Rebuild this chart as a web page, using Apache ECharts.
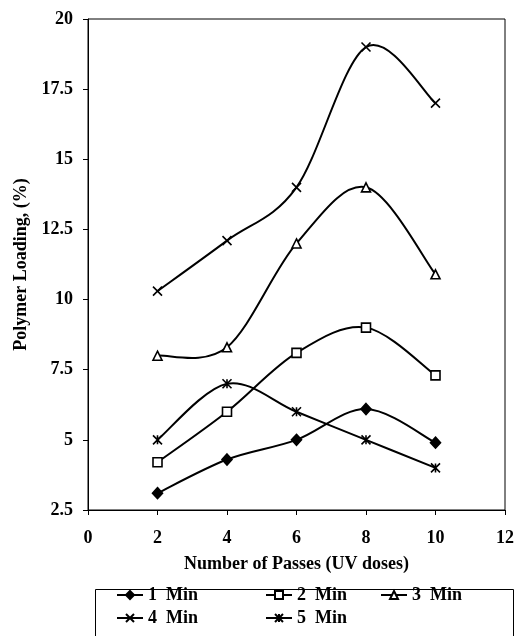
<!DOCTYPE html>
<html>
<head>
<meta charset="utf-8">
<script src="https://cdn.jsdelivr.net/npm/echarts@6/dist/echarts.min.js"></script>
<style>html,body{margin:0;padding:0;background:#fff;}#c{width:517px;height:636px;}</style>
</head>
<body>
<div id="c"></div>
<script>
var passes = [2, 4, 6, 8, 10];
var seriesNames = ['1  Min', '2  Min', '3  Min', '4  Min', '5  Min'];
var min1 = [3.1, 4.3, 5.0, 6.1, 4.9];
var min2 = [4.2, 6.0, 8.1, 9.0, 7.3];
var min3 = [8.0, 8.3, 12.0, 14.0, 10.9];
var min4 = [10.3, 12.1, 14.0, 19.0, 17.0];
var min5 = [5.0, 7.0, 6.0, 5.0, 4.0];
var allValues = [min1, min2, min3, min4, min5];

var FONT = 'Liberation Serif';
var symbols = [
  {symbol: 'diamond', size: [10, 11], fill: '#000'},
  {symbol: 'rect', size: 9, fill: '#fff'},
  {symbol: 'triangle', size: 9, fill: '#fff'},
  {symbol: 'path://M0,0L10,10M10,0L0,10', size: 9, fill: '#000'},
  {symbol: 'path://M0,0L10,10M10,0L0,10M5,0L5,10', size: 9, fill: '#000'}
];

function makeData(i) {
  return passes.map(function (p, j) { return [p, allValues[i][j]]; });
}

// Excel-like smoothed curve (Catmull-Rom style Bezier) drawn in pixel space via the axes
function curveRenderer(i) {
  return function (params, api) {
    if (params.dataIndex !== 0) return null;
    var pts = makeData(i).map(function (d) { return api.coord(d); });
    var n = pts.length, children = [];
    for (var k = 0; k < n - 1; k++) {
      var p0 = pts[Math.max(k - 1, 0)], p1 = pts[k], p2 = pts[k + 1], p3 = pts[Math.min(k + 2, n - 1)];
      children.push({
        type: 'bezierCurve',
        shape: {
          x1: p1[0], y1: p1[1], x2: p2[0], y2: p2[1],
          cpx1: p1[0] + (p2[0] - p0[0]) / 6, cpy1: p1[1] + (p2[1] - p0[1]) / 6,
          cpx2: p2[0] - (p3[0] - p1[0]) / 6, cpy2: p2[1] - (p3[1] - p1[1]) / 6
        },
        style: {stroke: '#000', lineWidth: 2, fill: null}
      });
    }
    return {type: 'group', children: children};
  };
}

var series = [];
seriesNames.forEach(function (name, i) {
  series.push({
    name: name + ' curve',
    type: 'custom',
    renderItem: curveRenderer(i),
    data: makeData(i),
    encode: {x: 0, y: 1},
    silent: true,
    z: 2
  });
  series.push({
    name: name,
    type: 'line',
    data: makeData(i),
    symbol: symbols[i].symbol,
    symbolSize: symbols[i].size,
    lineStyle: {color: '#000', width: 2, opacity: 0},
    itemStyle: {color: symbols[i].fill, borderColor: '#000', borderWidth: 1.6},
    z: 3
  });
});

var legendPos = [
  {left: 116, top: 585}, {left: 265, top: 585}, {left: 380, top: 585},
  {left: 116, top: 608}, {left: 265, top: 608}
];
var legends = seriesNames.map(function (name, i) {
  return {
    data: [name],
    left: legendPos[i].left,
    top: legendPos[i].top,
    padding: 0,
    itemWidth: 26,
    itemHeight: 10,
    lineStyle: {color: '#000', width: 2, opacity: 1},
    textStyle: {fontFamily: FONT, fontWeight: 'bold', fontSize: 18, color: '#000', lineHeight: 20},
    selectedMode: false
  };
});

var chart = echarts.init(document.getElementById('c'), null, {renderer: 'canvas'});
chart.setOption({
  animation: false,
  backgroundColor: '#fff',
  grid: {left: 88, right: 11, top: 19, bottom: 126, show: true, borderColor: '#000', borderWidth: 1},
  xAxis: {
    type: 'value', min: 0, max: 12, interval: 2,
    name: 'Number of Passes (UV doses)', nameLocation: 'middle', nameGap: 45,
    nameTextStyle: {fontFamily: FONT, fontWeight: 'bold', fontSize: 18, color: '#000'},
    axisLine: {lineStyle: {color: '#000', width: 1}},
    axisTick: {show: true, inside: false, length: 5, lineStyle: {color: '#000'}},
    axisLabel: {margin: 19, fontFamily: FONT, fontWeight: 'bold', fontSize: 18, color: '#000'},
    splitLine: {show: false}
  },
  yAxis: {
    type: 'value', min: 2.5, max: 20, interval: 2.5,
    name: 'Polymer Loading, (%)', nameLocation: 'middle', nameGap: 58,
    nameTextStyle: {fontFamily: FONT, fontWeight: 'bold', fontSize: 18, color: '#000'},
    axisLine: {show: true, lineStyle: {color: '#000', width: 1}},
    axisTick: {show: true, inside: false, length: 5, lineStyle: {color: '#000'}},
    axisLabel: {margin: 15, fontFamily: FONT, fontWeight: 'bold', fontSize: 18, color: '#000'},
    splitLine: {show: false}
  },
  legend: legends,
  graphic: [{
    type: 'rect', left: 93, top: 587,
    shape: {width: 418, height: 60},
    style: {fill: 'none', stroke: '#000', lineWidth: 1},
    silent: true
  }],
  series: series
});
</script>
</body>
</html>
